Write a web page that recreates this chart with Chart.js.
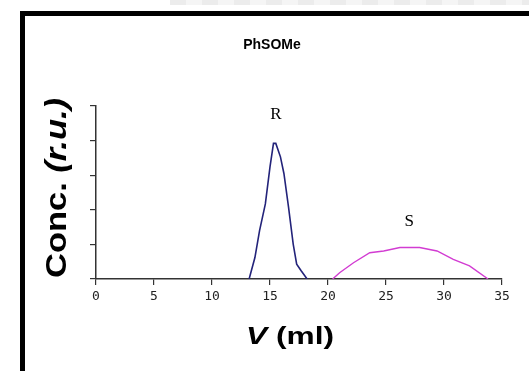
<!DOCTYPE html>
<html>
<head>
<meta charset="utf-8">
<script src="https://cdn.jsdelivr.net/npm/chart.js"></script>
<style>
  body { margin: 0; background: #fff; }
  #wrap { position: relative; width: 529px; height: 371px; overflow: hidden; }
  #frame { position: absolute; left: 20px; top: 11px; width: 600px; height: 500px; border: 5px solid #000; box-sizing: border-box; }
  #strip { position: absolute; left: 170px; top: 0; width: 359px; height: 5px; background: repeating-linear-gradient(90deg, #ececec 0 16px, #f5f5f5 16px 32px); }
  #c { position: absolute; left: 0; top: 0; }
</style>
</head>
<body>
<div id="wrap">
  <div id="strip"></div>
  <div id="frame"></div>
  <canvas id="c" width="529" height="371"></canvas>
</div>
<script>
// elution volume (ml) and relative concentration
var rVolume = [13.2, 13.7, 14.1, 14.6, 15.0, 15.3, 15.5, 15.9, 16.2, 16.6, 17.0, 17.3, 17.7, 18.2];
var rConc   = [0.0, 0.62, 1.40, 2.17, 3.24, 3.92, 3.92, 3.53, 3.05, 2.07, 1.01, 0.43, 0.23, 0.0];

var sVolume = [20.4, 21.0, 22.2, 23.6, 24.8, 26.2, 27.9, 29.4, 30.8, 32.2, 33.8];
var sConc   = [0.0, 0.18, 0.47, 0.76, 0.81, 0.91, 0.91, 0.81, 0.57, 0.38, 0.0];

var xTicks = [0, 5, 10, 15, 20, 25, 30, 35];
var peakNames = ['R', 'S'];
var peakLabelAt = [[15.5, 4.75], [27.0, 1.65]];

function toPoints(xs, ys) {
    var pts = [];
    for (var i = 0; i < xs.length; i++) pts.push({ x: xs[i], y: ys[i] });
    return pts;
}

// draws title, axis titles (mixed italic) and the R / S labels
var textPlugin = {
    id: 'texts',
    afterDraw: function (chart) {
        var ctx = chart.ctx;
        var xs = chart.scales.x, ys = chart.scales.y;
        ctx.save();
        ctx.fillStyle = '#000';
        ctx.textBaseline = 'middle';

        ctx.font = 'bold 14px "Liberation Sans", Arial, sans-serif';
        ctx.textAlign = 'center';
        ctx.fillText('PhSOMe', 272, 45);

        // peak names
        ctx.font = '17px "Liberation Serif", "Times New Roman", serif';
        for (var i = 0; i < peakNames.length; i++) {
            ctx.fillText(peakNames[i], xs.getPixelForValue(peakLabelAt[i][0]), ys.getPixelForValue(peakLabelAt[i][1]));
        }

        // x title: V (ml)
        drawMixed(ctx, [['bold italic', 'V'], ['bold', ' (ml)']], 23, 290, 338, 88, 0);
        // y title: Conc. (r.u.)
        drawMixed(ctx, [['bold', 'Conc. '], ['bold italic', '(r.u.)']], 29, 58, 188, 180, -Math.PI / 2);
        ctx.restore();
    }
};

function drawMixed(ctx, parts, size, cx, cy, targetW, rot) {
    var fam = ' ' + size + 'px "Liberation Sans", Arial, sans-serif';
    var total = 0;
    parts.forEach(function (p) { ctx.font = p[0] + fam; total += ctx.measureText(p[1]).width; });
    var sx = targetW / total;
    ctx.save();
    ctx.translate(cx, cy);
    ctx.rotate(rot);
    ctx.scale(sx, 1);
    ctx.textAlign = 'left';
    var x = -total / 2;
    parts.forEach(function (p) {
        ctx.font = p[0] + fam;
        ctx.fillText(p[1], x, 0);
        x += ctx.measureText(p[1]).width;
    });
    ctx.restore();
}

var axisColor = '#333';

new Chart(document.getElementById('c').getContext('2d'), {
    type: 'scatter',
    data: {
        datasets: [{
            data: toPoints(rVolume, rConc),
            showLine: true,
            borderColor: '#23237a',
            borderWidth: 1.6,
            pointRadius: 0,
            tension: 0
        }, {
            data: toPoints(sVolume, sConc),
            showLine: true,
            borderColor: '#d23cd2',
            borderWidth: 1.4,
            pointRadius: 0,
            tension: 0
        }]
    },
    options: {
        responsive: false,
        animation: false,
        layout: { padding: { left: 0, top: 106, right: 27, bottom: 0 } },
        plugins: { legend: { display: false }, tooltip: { enabled: false }, title: { display: false } },
        scales: {
            x: {
                type: 'linear', min: 0, max: 35,
                afterBuildTicks: function (scale) { scale.ticks = xTicks.map(function (v) { return { value: v }; }); },
                afterFit: function (scale) { scale.height = 92; },
                grid: { drawOnChartArea: false, drawTicks: true, tickLength: 6, color: axisColor, lineWidth: 1.2 },
                border: { display: true, color: axisColor, width: 1.5 },
                ticks: { color: '#222', padding: 4, font: { family: '"DejaVu Sans Mono", monospace', size: 13 } }
            },
            y: {
                type: 'linear', min: 0, max: 5,
                ticks: { stepSize: 1, display: false },
                afterFit: function (scale) { scale.width = 96; },
                grid: { drawOnChartArea: false, drawTicks: true, tickLength: 6, color: axisColor, lineWidth: 1.2 },
                border: { display: true, color: axisColor, width: 1.5 }
            }
        }
    },
    plugins: [textPlugin]
});
</script>
</body>
</html>
